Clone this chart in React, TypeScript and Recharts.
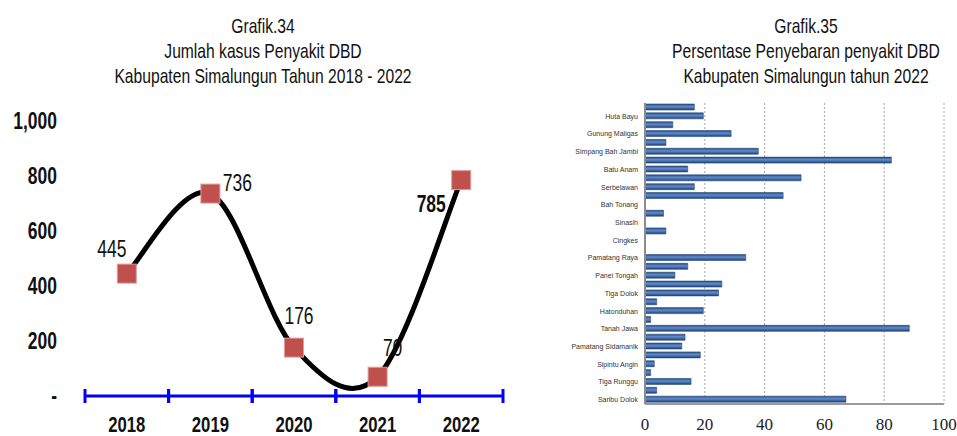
import React from 'react'
import { LineChart, Line, XAxis, YAxis, LabelList, BarChart, Bar, CartesianGrid } from 'recharts'

// Grafik 34 - jumlah kasus DBD per tahun
const years = ['2018', '2019', '2020', '2021', '2022']
const kasus = [445, 736, 176, 70, 785]
const kasusTicks = [0, 200, 400, 600, 800, 1000]
// where each value label sits around its marker
const labelSpots = ['upleft', 'right', 'up', 'upright', 'downleft']

// Grafik 35 - persentase per kecamatan (label kosong = tidak tampil di sumbu)
const kecamatan = [
  '', 'Huta Bayu', '', 'Gunung Maligas', '', 'Simpang Bah Jambi', '', 'Batu Anam', '', 'Serbelawan',
  '', 'Bah Tonang', '', 'Sinasih', '', 'Cingkes', '', 'Pamatang Raya', '', 'Panei Tongah',
  '', 'Tiga Dolok', '', 'Hatonduhan', '', 'Tanah Jawa', '', 'Pamatang Sidamanik', '', 'Sipintu Angin',
  '', 'Tiga Runggu', '', 'Saribu Dolok',
]
const persen = [
  16.5, 19.5, 9.3, 28.8, 7, 37.9, 82.4, 14.3, 52.2, 16.5,
  46.2, 0, 6.2, 0, 7, 0, 0, 33.7, 14.3, 10,
  25.7, 24.6, 3.9, 19.5, 1.9, 88.4, 13.4, 12.3, 18.5, 3.1,
  1.9, 15.4, 3.9, 67.2,
]
const persenTicks = [0, 20, 40, 60, 80, 100]

const lineData = years.map((tahun, i) => ({ tahun, kasus: kasus[i] }))
const barData = kecamatan.map((nama, i) => ({ id: i, nama, persen: persen[i] }))

// no condensed font installed, so squeeze Liberation Sans horizontally
const sans = '"Liberation Sans", Arial, sans-serif'
const SQUEEZE = 0.76

// Excel-like smoothed line (cardinal spline, tension 0)
function smoothCurve(context: any) {
  let pts: number[][] = []
  return {
    areaStart() {},
    areaEnd() {},
    lineStart() {
      pts = []
    },
    point(x: number, y: number) {
      pts.push([+x, +y])
    },
    lineEnd() {
      if (!pts.length) return
      context.moveTo(pts[0][0], pts[0][1])
      for (let i = 0; i < pts.length - 1; i++) {
        const p0 = pts[i - 1] || pts[i]
        const p1 = pts[i]
        const p2 = pts[i + 1]
        const p3 = pts[i + 2] || p2
        context.bezierCurveTo(
          p1[0] + (p2[0] - p0[0]) / 6,
          p1[1] + (p2[1] - p0[1]) / 6,
          p2[0] - (p3[0] - p1[0]) / 6,
          p2[1] - (p3[1] - p1[1]) / 6,
          p2[0],
          p2[1]
        )
      }
    },
  }
}

const LEFT_W = 520
const LEFT_MARGIN = { top: 121, right: 17, bottom: 0, left: 0 }
const LEFT_YAXIS_W = 85
const halfBand = (LEFT_W - LEFT_MARGIN.right - LEFT_YAXIS_W) / years.length / 2

function Squeezed({ x, y, anchor = 'middle', size = 23, bold = false, children }: any) {
  return (
    <text
      transform={`translate(${x},${y}) scale(${SQUEEZE},1)`}
      textAnchor={anchor}
      dominantBaseline="central"
      fontFamily={sans}
      fontSize={size}
      fontWeight={bold ? 'bold' : 'normal'}
      fill="#111"
    >
      {children}
    </text>
  )
}

function YearTick(props: any) {
  const { x, y, payload } = props
  return (
    <g>
      <line x1={x - halfBand} x2={x - halfBand} y1={y - 7} y2={y + 7} stroke="#0000ff" strokeWidth={3} />
      <line x1={x + halfBand} x2={x + halfBand} y1={y - 7} y2={y + 7} stroke="#0000ff" strokeWidth={3} />
      <Squeezed x={x} y={y + 28} size={22} bold>
        {payload.value}
      </Squeezed>
    </g>
  )
}

function KasusTick(props: any) {
  const { x, y, payload } = props
  const v = payload.value
  return (
    <Squeezed x={x} y={y} anchor="end" bold>
      {v === 0 ? '-' : v.toLocaleString('en-US')}
    </Squeezed>
  )
}

function SquareDot(props: any) {
  const { cx, cy, index } = props
  return <rect key={index} x={cx - 9.5} y={cy - 9.5} width={19} height={19} fill="#c0504d" stroke="#e39a98" strokeWidth={1} />
}

function KasusLabel(props: any) {
  const { x, y, value, index } = props
  const spot = labelSpots[index]
  let dx = 0
  let dy = 0
  if (spot === 'upleft') { dx = -15; dy = -25 }
  if (spot === 'right') { dx = 27; dy = -10 }
  if (spot === 'up') { dx = 5; dy = -31 }
  if (spot === 'upright') { dx = 15; dy = -29 }
  if (spot === 'downleft') { dx = -30; dy = 24 }
  return (
    <Squeezed x={x + dx} y={y + dy} bold={spot === 'downleft'}>
      {value}
    </Squeezed>
  )
}

function Title({ lines, center }: { lines: string[]; center: number }) {
  return (
    <div
      style={{
        position: 'absolute',
        top: 13,
        left: center - 250,
        width: 500,
        textAlign: 'center',
        fontFamily: sans,
        fontSize: 21,
        lineHeight: '25px',
        color: '#111',
        transform: `scaleX(${SQUEEZE * 0.98})`,
        transformOrigin: 'center',
      }}
    >
      {lines.map((l) => (
        <div key={l}>{l}</div>
      ))}
    </div>
  )
}

export default function App() {
  return (
    <div style={{ position: 'absolute', top: 0, left: 0, width: 957, height: 436, background: '#fff', overflow: 'hidden' }}>
      <Title lines={['Grafik.34', 'Jumlah kasus Penyakit DBD', 'Kabupaten Simalungun Tahun 2018 - 2022']} center={263} />
      <Title lines={['Grafik.35', 'Persentase Penyebaran penyakit DBD', 'Kabupaten Simalungun tahun 2022']} center={806} />

      <div style={{ position: 'absolute', top: 0, left: 0 }}>
        <LineChart width={LEFT_W} height={436} data={lineData} margin={LEFT_MARGIN}>
          <XAxis
            dataKey="tahun"
            height={40}
            padding={{ left: halfBand, right: halfBand }}
            axisLine={{ stroke: '#0000ff', strokeWidth: 3 }}
            tickLine={false}
            tickSize={0}
            tickMargin={0}
            tick={<YearTick />}
            interval={0}
          />
          <YAxis
            width={LEFT_YAXIS_W}
            domain={[0, 1000]}
            ticks={kasusTicks}
            axisLine={false}
            tickLine={false}
            tickSize={0}
            tickMargin={28}
            tick={<KasusTick />}
          />
          <Line
            dataKey="kasus"
            type={smoothCurve as any}
            stroke="#000"
            strokeWidth={5}
            dot={SquareDot}
            activeDot={false}
            isAnimationActive={false}
          >
            <LabelList dataKey="kasus" content={KasusLabel} />
          </Line>
        </LineChart>
      </div>

      <div style={{ position: 'absolute', top: 0, left: 480 }}>
        <BarChart
          width={477}
          height={436}
          data={barData}
          layout="vertical"
          margin={{ top: 103, right: 13, bottom: 0, left: 0 }}
          barSize={6}
        >
          <defs>
            <linearGradient id="barBlue" x1="0" y1="0" x2="0" y2="1">
              <stop offset="0%" stopColor="#24477c" />
              <stop offset="40%" stopColor="#5f8ac6" />
              <stop offset="65%" stopColor="#4673b2" />
              <stop offset="100%" stopColor="#1e3c6c" />
            </linearGradient>
          </defs>
          <CartesianGrid horizontal={false} stroke="#a6a6a6" strokeDasharray="2 2" />
          <XAxis
            type="number"
            domain={[0, 100]}
            ticks={persenTicks}
            height={32}
            axisLine={{ stroke: '#9a9a9a', strokeWidth: 2 }}
            tickLine={false}
            tickSize={0}
            tickMargin={14}
            tick={{ fontFamily: '"Liberation Serif", "DejaVu Serif", serif', fontSize: 17, fill: '#222' }}
          />
          <YAxis
            type="category"
            dataKey="id"
            width={165}
            interval={0}
            axisLine={{ stroke: '#8c8c8c', strokeWidth: 2 }}
            tickLine={false}
            tickSize={0}
            tickMargin={7}
            tickFormatter={(i: number) => kecamatan[i]}
            tick={{ fontFamily: sans, fontSize: 7, fill: '#333' }}
          />
          <Bar dataKey="persen" fill="url(#barBlue)" stroke="#2b4d80" strokeWidth={0.6} isAnimationActive={false} />
        </BarChart>
      </div>
    </div>
  )
}
